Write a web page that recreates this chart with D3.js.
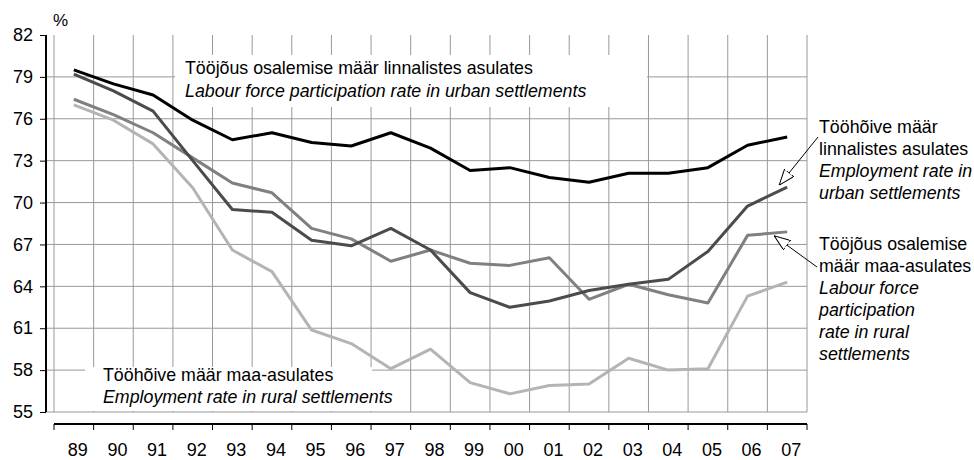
<!DOCTYPE html>
<html>
<head>
<meta charset="utf-8">
<script src="https://cdn.jsdelivr.net/npm/d3@7"></script>
<style>
  body { margin: 0; background: #fff; }
  svg { font-family: "Liberation Sans", Arial, sans-serif; }
</style>
</head>
<body>
<div id="wrapper"></div>
<script>
//*************************1. Data
const years = ["89","90","91","92","93","94","95","96","97","98","99","00","01","02","03","04","05","06","07"]
const yTicks = [55,58,61,64,67,70,73,76,79,82]

// urban labour force participation rate
const urbanLfpr = [79.5,78.5,77.7,75.9,74.5,75.0,74.3,74.05,75.0,73.9,72.3,72.5,71.8,71.45,72.1,72.1,72.5,74.1,74.7]
// urban employment rate
const urbanEmp = [79.2,78.0,76.55,73.0,69.5,69.3,67.3,66.9,68.15,66.6,63.55,62.5,62.95,63.7,64.15,64.5,66.5,69.75,71.1]
// rural labour force participation rate
const ruralLfpr = [77.4,76.3,75.0,73.2,71.4,70.7,68.15,67.4,65.8,66.6,65.65,65.5,66.05,63.07,64.15,63.4,62.8,67.65,67.9]
// rural employment rate
const ruralEmp = [77.0,75.9,74.2,71.06,66.6,65.05,60.87,59.9,58.1,59.5,57.1,56.3,56.9,57.0,58.85,58.0,58.1,63.3,64.3]

const series = [
  {name: "ruralEmp", values: ruralEmp, color: "#b4b4b4"},
  {name: "ruralLfpr", values: ruralLfpr, color: "#808080"},
  {name: "urbanEmp", values: urbanEmp, color: "#4b4b4b"},
  {name: "urbanLfpr", values: urbanLfpr, color: "#000000"}
]

function draw() {

//*************************2. Dimensions
  const width = 974, height = 460
  const dims = {left: 54, right: 807, top: 35, bottom: 412}
  const noteSize = 17.8

  const svg = d3.select("#wrapper").append("svg")
      .attr("width", width)
      .attr("height", height)

//*************************3. Scales
  const xScale = d3.scaleBand()
      .domain(years)
      .range([dims.left, dims.right])
      .padding(0)

  const yScale = d3.scaleLinear()
      .domain([55, 82])
      .range([dims.bottom, dims.top])

  const xAccessor = (d, i) => xScale(years[i]) + xScale.bandwidth() / 2
  const yAccessor = d => yScale(d)

//*************************4. Grid
  const grid = svg.append("g")
  grid.selectAll(".hgrid")
    .data(yTicks.filter(t => t < 82))
    .join("line")
      .attr("x1", 46).attr("x2", dims.right)
      .attr("y1", d => yScale(d)).attr("y2", d => yScale(d))
      .attr("stroke", "#999").attr("stroke-width", 1)

  const bounds = xScale.domain().map(y => xScale(y)).concat([dims.right])
  grid.selectAll(".vgrid")
    .data(bounds)
    .join("line")
      .attr("x1", d => d).attr("x2", d => d)
      .attr("y1", dims.top).attr("y2", dims.bottom)
      .attr("stroke", "#999").attr("stroke-width", 1)

//*************************5. Axes
  const yAxis = svg.append("g")
      .attr("transform", "translate(46,0)")
      .call(d3.axisLeft(yScale).tickValues(yTicks).tickSize(6).tickPadding(7))
  yAxis.select(".domain").attr("stroke-width", 2).attr("d", `M0,${dims.top}V${dims.bottom}`)
  yAxis.selectAll("text").attr("font-size", 18).attr("fill", "#000").attr("font-family", null)

  svg.append("text")
      .attr("x", 53).attr("y", 26)
      .attr("font-size", 17)
      .text("%")

  // x axis sits a bit below the plot area
  const xAxisY = 424
  svg.append("line")
      .attr("x1", dims.left).attr("x2", dims.right)
      .attr("y1", xAxisY).attr("y2", xAxisY)
      .attr("stroke", "#000").attr("stroke-width", 2)
  svg.selectAll(".xtick")
    .data(bounds)
    .join("line")
      .attr("x1", d => d).attr("x2", d => d)
      .attr("y1", xAxisY).attr("y2", xAxisY + 6)
      .attr("stroke", "#000").attr("stroke-width", 1)
  svg.selectAll(".xlabel")
    .data(years)
    .join("text")
      .attr("x", d => xScale(d) + xScale.bandwidth() / 2 + 4)
      .attr("y", 456)
      .attr("text-anchor", "middle")
      .attr("font-size", 18)
      .text(d => d)

//*************************6. Text boxes inside plot
  svg.append("rect")
      .attr("x", 175).attr("y", 55).attr("width", 472).attr("height", 52)
      .attr("fill", "#fff")
  const topNote = svg.append("text").attr("font-size", noteSize)
  topNote.append("tspan").attr("x", 185).attr("y", 74)
      .text("Tööjõus osalemise määr linnalistes asulates")
  topNote.append("tspan").attr("x", 185).attr("y", 97).attr("font-style", "italic")
      .text("Labour force participation rate in urban settlements")

  svg.append("rect")
      .attr("x", 85).attr("y", 367).attr("width", 287).attr("height", 44)
      .attr("fill", "#fff")
  svg.append("rect")
      .attr("x", 372).attr("y", 386).attr("width", 26).attr("height", 25)
      .attr("fill", "#fff")
  const botNote = svg.append("text").attr("font-size", noteSize)
  botNote.append("tspan").attr("x", 103).attr("y", 381)
      .text("Tööhõive määr maa-asulates")
  botNote.append("tspan").attr("x", 103).attr("y", 403).attr("font-style", "italic")
      .text("Employment rate in rural settlements")

//*************************7. Lines
  const lineGenerator = d3.line()
      .x(xAccessor)
      .y(yAccessor)

  svg.append("g").selectAll("path")
    .data(series)
    .join("path")
      .attr("d", d => lineGenerator(d.values))
      .attr("fill", "none")
      .attr("stroke", d => d.color)
      .attr("stroke-width", 3)
      .attr("stroke-linejoin", "round")

//*************************8. Right side labels + arrows
  const rightNotes = [
    {y: 133, lines: [["Tööhõive määr", false], ["linnalistes asulates", false], ["Employment rate in", true], ["urban settlements", true]]},
    {y: 250, lines: [["Tööjõus osalemise", false], ["määr maa-asulates", false], ["Labour force", true], ["participation", true], ["rate in rural", true], ["settlements", true]]}
  ]
  rightNotes.forEach(n => {
    const t = svg.append("text").attr("font-size", noteSize)
    n.lines.forEach((l, i) => {
      t.append("tspan")
        .attr("x", 819).attr("y", n.y + i * 22)
        .attr("font-style", l[1] ? "italic" : null)
        .text(l[0])
    })
  })

  svg.append("defs").append("marker")
      .attr("id", "openArrow")
      .attr("viewBox", "0 0 16 12")
      .attr("refX", 16).attr("refY", 6)
      .attr("markerWidth", 16).attr("markerHeight", 12)
      .attr("markerUnits", "userSpaceOnUse")
      .attr("orient", "auto")
    .append("path")
      .attr("d", "M0,0L16,6L0,12Z")
      .attr("fill", "#fff")
      .attr("stroke", "#000")
      .attr("stroke-width", 1)

  // arrows point at the last value of the two middle series
  const lastX = xAccessor(null, years.length - 1)
  const arrows = [
    {from: [818, 137], to: [lastX - 8, yScale(urbanEmp[urbanEmp.length - 1]) - 2]},
    {from: [817, 267], to: [lastX - 13, yScale(ruralLfpr[ruralLfpr.length - 1]) + 4]}
  ]
  svg.selectAll(".arrow")
    .data(arrows)
    .join("line")
      .attr("x1", d => d.from[0]).attr("y1", d => d.from[1])
      .attr("x2", d => d.to[0]).attr("y2", d => d.to[1])
      .attr("stroke", "#000").attr("stroke-width", 1)
      .attr("marker-end", "url(#openArrow)")
}
draw()
</script>
</body>
</html>
